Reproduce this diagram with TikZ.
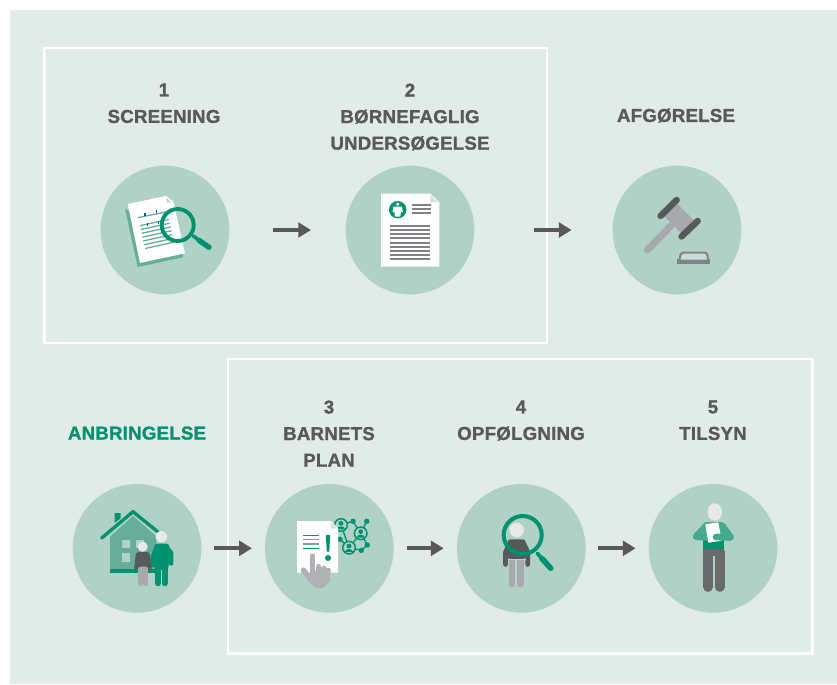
\documentclass[tikz,border=0pt]{standalone}
\usepackage{fontspec}
\usetikzlibrary{arrows.meta}
\newfontfamily\labelfont[LetterSpace=1.2,FakeBold=1.2]{Liberation Sans Bold}
\definecolor{panelgreen}{HTML}{E1EBE7}
\definecolor{circlegreen}{HTML}{B0D1C6}
\definecolor{deepgreen}{HTML}{00926F}
\definecolor{midgreen}{HTML}{66AE9A}
\definecolor{sleevegreen}{HTML}{45A98D}
\definecolor{textgrey}{HTML}{58595B}
\definecolor{midgrey}{HTML}{808285}
\definecolor{lightgrey}{HTML}{A7A9AC}
\definecolor{headgrey}{HTML}{E9E9EA}
\tikzset{every picture/.style={line width=0.75pt}}
\tikzset{
  stepcircle/.style={circle,fill=circlegreen,minimum size=96.5pt,inner sep=0pt,outer sep=0pt},
  steptitle/.style={anchor=north,inner sep=0pt,align=center,text=textgrey,font=\labelfont\fontsize{14}{19.9}\selectfont},
  whiteframe/.style={draw=white,line width=2pt},
  flowarrow/.style={-{Triangle[length=9.5pt,width=11pt]},draw=textgrey,line width=2.8pt},
  roundline/.style={line cap=round,line join=round,line width=#1},
}
\begin{document}
\begin{tikzpicture}[x=0.75pt,y=0.75pt,yscale=-1,xscale=1]
\useasboundingbox (0,0) rectangle (837,684);

%Shape: Panel
\fill [panelgreen] (9.5,10) rectangle (837,684);
%Shape: Frames
\draw [whiteframe] (44.8,48) rectangle (547,343);
\draw [whiteframe] (228,359) rectangle (812.3,653.3);

%Shape: Circles
\node [stepcircle] (screening) at (165,230) {};
\node [stepcircle] (undersogelse) at (410,230) {};
\node [stepcircle] (afgorelse) at (677,230) {};
\node [stepcircle] (anbringelse) at (137,548.3) {};
\node [stepcircle] (barnetsplan) at (329.3,548.3) {};
\node [stepcircle] (opfolgning) at (521.3,548.3) {};
\node [stepcircle] (tilsyn) at (713,548.3) {};

%Straight Lines
\draw [flowarrow,shorten <=32.8pt,shorten >=26pt] (screening) -- (undersogelse);
\draw [flowarrow,shorten <=44.8pt,shorten >=30.8pt] (undersogelse) -- (afgorelse);
\draw [flowarrow,shorten <=9.5pt,shorten >=9.8pt] (anbringelse) -- (barnetsplan);
\draw [flowarrow,shorten <=10pt,shorten >=10pt] (barnetsplan) -- (opfolgning);
\draw [flowarrow,shorten <=9.5pt,shorten >=9.8pt] (opfolgning) -- (tilsyn);

% Text Node
\node [steptitle] (screeningtitle) at (164,83) {1\\SCREENING};
\node [steptitle] (undersogelsetitle) at (410,83) {2\\BØRNEFAGLIG\\UNDERSØGELSE};
\node [steptitle] (afgorelsetitle) at (676,108) {AFGØRELSE};
\node [steptitle,text=deepgreen] (anbringelsetitle) at (137,426) {ANBRINGELSE};
\node [steptitle] (barnetsplantitle) at (329,400) {3\\BARNETS\\PLAN};
\node [steptitle] (opfolgningtitle) at (521,400) {4\\OPFØLGNING};
\node [steptitle] (tilsyntitle) at (713,400) {5\\TILSYN};

%Icon: Screening
\fill [midgreen] (125,208.3) -- (137.7,267) -- (183,257.3) -- (182.3,252) -- cycle;
\fill [white] (127.7,204) -- (166,196) -- (173.3,201.7) -- (185,253.3) -- (140,263) -- cycle;
\fill [circlegreen] (166,197.7) -- (171,202.3) -- (167,202.3) -- cycle;
\draw [midgreen,line width=1pt] (137.7,217.7) -- (167.3,211.7);
\foreach \i in {0,...,6}
  \draw [midgreen,line width=1pt] (140+0.83*\i,225.7+3.8*\i) -- ++(29,-6.3);
\foreach \tx/\ty in {145/213,156.3/210.3,147.7/223.3,158.3/221}
  \draw [blue!60!cyan!80!black,line width=0.9pt] (\tx,\ty) -- ++(0,3);
\draw [deepgreen,line width=2.9pt] (177.7,225) circle [radius=16];
\draw [deepgreen,roundline=2.6pt] (193.3,236) -- (200,241);
\draw [deepgreen,roundline=4pt] (199,240.3) -- (209,247.3);

%Icon: Undersogelse
\fill [white] (381,193.7) -- (430.3,193.7) -- (439.3,202.3) -- (439.3,266.7) -- (381,266.7) -- cycle;
\fill [circlegreen!60!white] (430.3,195) -- (437.7,202.3) -- (430.3,202.3) -- cycle;
\fill [deepgreen] (397.7,209.7) circle [radius=8.7];
\fill [white] (397.7,204.2) circle [radius=1.7];
\fill [white] (393.3,206.7) -- (402.1,206.7) -- (402.8,212) -- (401,212) -- (400.3,216.5) -- (395.1,216.5) -- (394.4,212) -- (392.6,212) -- cycle;
\foreach \ly in {205,209.3,213.3}
  \draw [midgrey,line width=1.5pt] (411.7,\ly) -- (430.7,\ly);
\foreach \ly in {226,230,234.3,238.3,242.7,247,251,255,259}
  \draw [midgrey,line width=1.6pt] (390,\ly) -- (430,\ly);

%Icon: Afgorelse
\draw [lightgrey,roundline=5.2pt] (647.3,250) -- (671.7,225);
\fill [lightgrey] (664,216) -- (676.7,203.3) -- (695,221.7) -- (682.3,234.3) -- cycle;
\draw [textgrey,roundline=4.8pt] (660.5,216) -- (676.7,200);
\draw [textgrey,roundline=4.8pt] (681.5,236.5) -- (697.7,221);
\fill [midgrey] (677,259) rectangle (710.3,263.7);
\draw [midgrey,fill=circlegreen!70!white,line width=1.5pt,rounded corners=1.5pt] (679.5,259.5) -- (681,252.5) -- (707,252.5) -- (708,259.5);

%Icon: Anbringelse
\fill [midgreen] (110,570) -- (110,536.7) -- (133,516) -- (156.7,536.7) -- (156.7,570) -- cycle;
\fill [deepgreen] (114.7,513) -- (120.7,513) -- (120.7,518.3) -- (114.7,522.7) -- cycle;
\draw [deepgreen,line width=2.5pt,line cap=round] (101.7,538) -- (133,511.7) -- (161.7,535);
\fill [deepgreen] (110,569.3) rectangle (156.7,572.7);
\fill [circlegreen] (122.3,540) rectangle (130.3,548.3);
\fill [circlegreen] (135.7,540) rectangle (143.7,548.3);
\fill [circlegreen] (122.3,553.3) rectangle (130.3,562);
% adult
\draw [deepgreen,roundline=3.6pt] (156.5,548) -- (153,557) -- (153,565);
\draw [deepgreen,roundline=3.6pt] (167,548) -- (171,553) -- (171,563.3);
\fill [deepgreen,rounded corners=2.5pt] (154,543.5) -- (169.5,543.5) -- (168.5,570) -- (155,570) -- cycle;
\draw [deepgreen,roundline=4.4pt] (158.3,565) -- (158.3,583.3);
\draw [deepgreen,roundline=4.4pt] (165,565) -- (165,583.3);
\fill [headgrey] (161.3,536.7) circle [radius=5.7];
% child
\draw [lightgrey,roundline=4pt] (140.3,566) -- (140.3,583.5);
\draw [lightgrey,roundline=4pt] (145.7,566) -- (145.7,583.5);
\fill [textgrey,rounded corners=2pt] (136,552) -- (149.5,552) -- (152,570.5) -- (149,570.5) -- (148,566.5) -- (138,566.5) -- (137,570.5) -- (134,570.5) -- cycle;
\fill [headgrey] (142.7,546.7) circle [radius=5];

%Icon: Barnets plan
\draw [deepgreen,line width=1pt] (341,525) -- (353,521.3) (353,521.3) -- (360.7,533.3) -- (366.7,521.3) (360.7,533.3) -- (349,547.7) -- (341,525) (360.7,533.3) -- (367.3,545) -- (361.3,550.3) -- (349,547.7) (340,539.3) -- (349,547.7);
\foreach \nx/\ny in {341/525,360.7/533.3,349/547.7}{
  \fill [circlegreen] (\nx,\ny) circle [radius=6.3];
  \draw [deepgreen,line width=1.1pt] (\nx,\ny) circle [radius=6.3];
  \fill [deepgreen] (\nx,\ny-1.7) circle [radius=2.4];
  \fill [deepgreen] (\nx-4.2,\ny+4.4) .. controls (\nx-3.5,\ny+0.3) and (\nx+3.5,\ny+0.3) .. (\nx+4.2,\ny+4.4) -- cycle;
}
\foreach \nx/\ny in {353/521.3,366.7/521.3,367.3/545,361.3/550.3,340/539.3}
  \fill [deepgreen] (\nx,\ny) circle [radius=2.7];
\fill [white] (297,521) -- (331,521) -- (338,528.3) -- (338,572.7) -- (297,572.7) -- cycle;
\fill [circlegreen!60!white] (331,522.7) -- (336.7,528.3) -- (331,528.3) -- cycle;
\foreach \ly/\lc in {535.3/deepgreen,539.3/midgreen,544/midgreen,548.3/deepgreen}
  \draw [\lc,line width=1pt] (303,\ly) -- (319,\ly);
\fill [deepgreen] (325.8,535) -- (330.2,535) -- (329.3,551.7) -- (326.8,551.7) -- cycle;
\fill [deepgreen] (328,558) circle [radius=3];
% hand
\fill [lightgrey!90!white] (319.5,579) circle [radius=9.3];
\draw [lightgrey!90!white,roundline=3.8pt] (312.7,556) -- (312.7,578);
\draw [lightgrey!90!white,roundline=4pt] (303.5,570) -- (312,581.5);
\draw [lightgrey!90!white,roundline=4pt] (318.5,566.5) -- (318.5,580);
\draw [lightgrey!90!white,roundline=4pt] (324,568.5) -- (324,580);
\draw [lightgrey!90!white,roundline=3.4pt] (328.5,570) -- (327.5,581);

%Icon: Opfolgning
\draw [lightgrey,roundline=5pt] (512,560) -- (512,584);
\draw [lightgrey,roundline=5pt] (520.3,560) -- (520.3,584);
\draw [textgrey,roundline=3.5pt] (509.5,544) -- (505.5,552) -- (505.5,564.5);
\draw [textgrey,roundline=3.5pt] (524,544) -- (527.7,552) -- (527.7,564.5);
\fill [textgrey,rounded corners=2pt] (507.5,539.3) -- (525.5,539.3) -- (526,559) -- (507.5,559) -- cycle;
\draw [lightgrey!60!white,line width=0.8pt] (508,559.5) -- (525.5,559.5);
\fill [headgrey] (516.7,530) circle [radius=7.3];
\draw [deepgreen,line width=3pt] (522.7,535) circle [radius=19];
\draw [deepgreen,roundline=2.8pt] (537.3,553.3) -- (543,559.7);
\draw [deepgreen,roundline=4.2pt] (542,558.6) -- (550.7,568.3);

%Icon: Tilsyn
\fill [textgrey!90!white] (703.3,547) rectangle (724.3,556);
\draw [textgrey!90!white,roundline=7.4pt] (708.3,552) -- (708.3,587);
\draw [textgrey!90!white,roundline=7.4pt] (719.7,552) -- (719.7,587);
\fill [sleevegreen,rounded corners=2pt] (703.3,522) -- (724.3,522) -- (724.3,540) -- (703.3,540) -- cycle;
\fill [deepgreen] (703.3,537) rectangle (724.3,548.5);
\draw [sleevegreen,roundline=5pt] (706,526) -- (696,536.7) -- (708,537.5);
\fill [white] (705.3,524.3) -- (718.3,522.3) -- (721.7,540.7) -- (708.3,542.7) -- cycle;
\draw [sleevegreen,roundline=5pt] (722.5,526) -- (730.7,537.5) -- (716,537);
\fill [headgrey] (714.7,512) ellipse [x radius=7.3,y radius=8.7];

\end{tikzpicture}
\end{document}
